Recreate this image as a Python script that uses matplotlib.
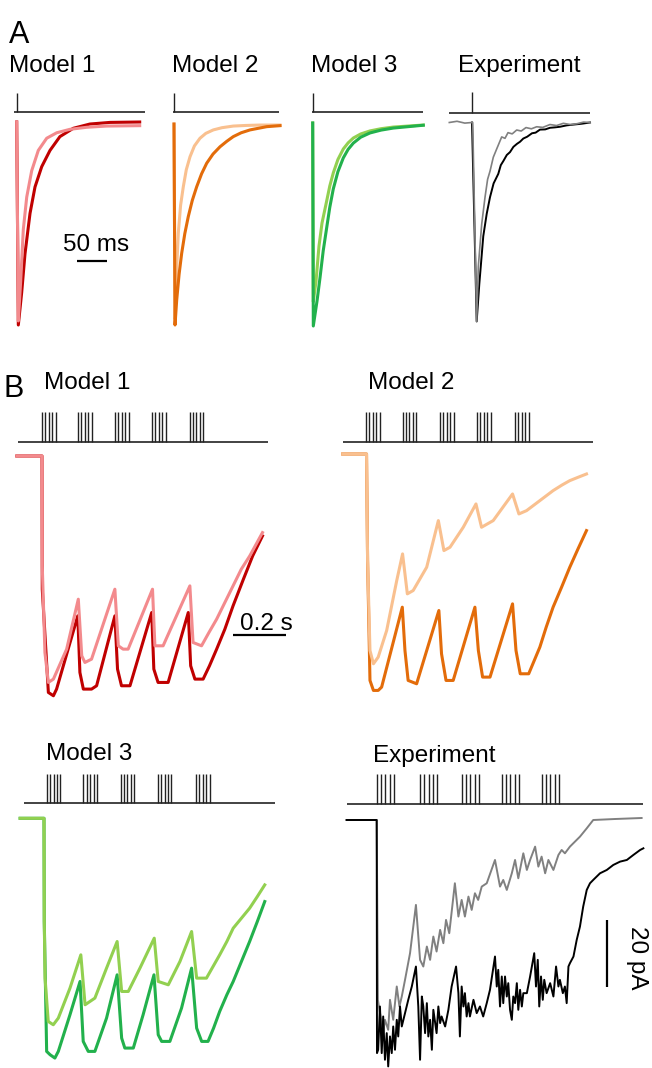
import matplotlib
matplotlib.use('Agg')
import matplotlib.pyplot as plt

# ---- panel A: single EPSC, time in ms, amplitude in % of peak ----
a_m1_fast_t = [0, 2.7, 6.7, 11, 16.7, 25, 36, 50, 66.7, 88.8, 116.7, 150, 205]
a_m1_fast_y = [0, -98, -78, -53, -37, -24, -14, -8, -5.3, -3.6, -2.6, -2, -1.8]
a_m1_slow_t = [0, 2.7, 8.3, 13.8, 22.2, 30.5, 41.7, 55.5, 72, 94.3, 122, 155.5, 205]
a_m1_slow_y = [0, -100, -84, -65, -45, -32, -22, -14, -7.2, -3.1, -1, -0.2, 0]

a_m2_fast_t = [0, 1.7, 4.5, 7.2, 11, 15.5, 20.5, 26.7, 34, 43.3, 53, 65.5, 80, 98.8, 120, 143.3, 176.7]
a_m2_fast_y = [-1, -97, -72, -54.6, -41, -31.9, -23.5, -17.1, -11.8, -8, -5.6, -3.9, -2.8, -2, -1.7, -1.5, -1.5]
a_m2_slow_t = [0, 1.7, 4.5, 8.5, 12.8, 18, 23.8, 30.5, 37.8, 46, 54.5, 65, 76.7, 88, 98.8, 112, 126.7, 154.5, 176.7]
a_m2_slow_y = [-1, -100, -87.7, -75, -64.7, -55, -46.6, -38.6, -31.9, -25.5, -20.3, -15.8, -12.2, -9.5, -7.2, -5.3, -3.9, -2.3, -1.8]

a_m3_fast_t = [0, 1, 5.5, 10.5, 15.5, 23.3, 28.5, 34.3, 42, 51, 59, 67.7, 80, 95.5, 114, 134.3, 184.3]
a_m3_fast_y = [0, -88, -78, -60.6, -49.3, -38.4, -31, -24.6, -18, -12.8, -9.8, -7.4, -5.4, -3.9, -2.8, -2, -1]
a_m3_slow_t = [0, 1, 7.2, 12.2, 17.5, 23.3, 28.5, 34.3, 42, 51, 59, 67.7, 80, 95.5, 114, 134.3, 184.3]
a_m3_slow_y = [0, -100, -87.7, -76.2, -63, -51.6, -41.5, -32.5, -24, -17.2, -13, -9.9, -7, -4.9, -3.5, -2.5, -1.1]

a_exp_gray_t = [-37.8, -25, -12, 0, 1.2, 7.8, 10.5, 16.2, 21.7, 26, 30, 35.5, 41.2, 49.5, 55, 60,
                67, 74.5, 82, 90, 99, 107.8, 118, 130, 141, 152.2, 164, 175, 186, 196.7]
a_exp_gray_y = [0, 0.6, -0.3, 0, 0, -98, -71, -50, -36.8, -28, -24, -17.1, -13, -7.1, -7.8, -5,
                -5.6, -3.7, -4.2, -2.5, -3.1, -2.1, -2.4, -1, -1.5, -0.4, -1, -0.6, 0.2, 0]
a_exp_black_t = [0, 7.8, 12.2, 18.8, 24.5, 30, 36, 43.8, 48, 52.2, 58, 63.3, 69, 75, 80, 85.5,
                 92, 100, 106, 113.3, 122, 130, 138, 146.7, 158, 170, 183, 196.7]
a_exp_black_y = [0, -98, -79.5, -56, -45, -36.8, -30, -25.3, -21, -19, -16, -14.6, -12, -10.5,
                 -9.5, -7.9, -7, -5.3, -5, -3.5, -3.4, -2.6, -2.4, -2.1, -1.4, -1, -0.6, 0]

# ---- panel B: theta-burst responses, time in ms, current in pA ----
b_m1_light_t = [-95, 0, 1, 11, 24, 43, 93, 137, 150, 162, 187, 275, 288, 306, 325, 417, 426,
                457, 558, 570, 602, 630, 659, 690, 721, 752, 784, 832]
b_m1_light_y = [0, 0, -33, -59, -68, -67, -58, -43, -60, -62, -61, -40, -57, -58, -58, -40, -57,
                -57, -39, -56, -57, -53, -49, -44, -39, -34, -30, -23]
b_m1_dark_t = [-95, 0, 1, 24, 43, 55, 135, 143, 156, 187, 206, 275, 285, 300, 332, 414, 422,
               438, 476, 552, 561, 577, 608, 632, 659, 690, 721, 760, 795, 832]
b_m1_dark_y = [0, 0, -40, -71, -72, -70, -48, -65, -70, -70, -69, -48, -64, -69, -69, -47, -64,
               -68, -68, -47, -63, -67, -67, -63, -58, -52, -45, -37, -30, -24]

b_m2_light_t = [-88, 2, 6, 15, 28, 46, 78, 116, 138, 156, 178, 229, 273, 294, 317, 367, 415,
                436, 480, 553, 577, 606, 656, 706, 740, 769, 800, 832]
b_m2_light_y = [0, 0, -32, -59, -63, -61, -53, -38, -30, -42, -41, -34, -20, -29, -28, -22, -15,
                -22, -20, -12, -18, -17, -14, -11, -9.3, -8, -7, -6]
b_m2_dark_t = [-88, 2, 6, 15, 28, 46, 59, 137, 147, 159, 191, 275, 285, 302, 329, 411, 424,
               440, 468, 553, 566, 582, 614, 635, 656, 680, 706, 738, 769, 800, 832]
b_m2_dark_y = [0, 0, -32, -68, -71, -71, -70, -46, -59, -68, -69, -47, -60, -68, -68, -46, -59,
               -67, -67, -45, -59, -66, -66, -62, -58, -52, -46, -40, -34, -28.5, -23]

b_m3_light_t = [-90, 0, 1, 4, 16, 35, 54, 98, 139, 155, 192, 236, 276, 293, 318, 362, 416, 431,
                469, 513, 557, 576, 613, 638, 663, 690, 714, 745, 776, 805, 833]
b_m3_light_y = [0, 0, -31, -48, -61, -62, -60, -51, -41, -56, -54, -45, -37, -52, -52, -45, -36,
                -49, -50, -43, -34, -48, -48, -44.5, -41, -37, -33, -30, -27, -23.5, -20]
b_m3_dark_t = [-90, 0, 1, 10, 23, 41, 54, 98, 136, 148, 167, 192, 236, 276, 293, 305, 337, 374,
               415, 431, 444, 475, 519, 557, 576, 595, 619, 640, 663, 690, 714, 745, 776, 805, 833]
b_m3_dark_y = [0, 0, -31, -70, -71, -72, -70, -59, -49, -67, -70, -70, -60, -47, -66, -69, -69,
               -59, -47, -65, -67, -67, -57, -45, -63, -67, -67, -63, -58, -53, -49, -43, -37, -31, -25]

b_exp_black_t = [-102, 0, 1, 5, 11, 17, 22, 28, 34, 39,
                 45, 51, 56, 62, 68, 73, 79, 85, 96, 107,
                 119, 133, 141, 147, 153, 158, 164, 170, 175, 181,
                 187, 192, 203, 209, 215, 220, 232, 243, 254, 269,
                 277, 282, 288, 294, 299, 305, 311, 316, 328, 339,
                 350, 361, 373, 384, 401, 407, 412, 418, 424, 429,
                 435, 441, 446, 452, 458, 463, 469, 475, 480, 486,
                 492, 497, 509, 520, 534, 540, 546, 551, 557, 563,
                 568, 576, 588, 599, 608, 616, 621, 631, 638, 644,
                 650, 655, 667, 678, 689, 700, 712, 723, 734, 757,
                 780, 802, 825, 848, 870, 893, 904]
b_exp_black_y = [0, 0, -70, -69, -56, -70, -59, -72, -64, -74,
                 -65, -70, -62, -69, -60, -65, -56, -62, -58, -54,
                 -50, -44, -56, -72, -53, -56, -64, -55, -65, -60,
                 -69, -57, -64, -56, -61, -59, -62, -57, -50, -44,
                 -52, -65, -50, -56, -52, -59, -55, -59, -54, -58,
                 -56, -59, -55, -51, -41, -50, -45, -56, -47, -55,
                 -47, -53, -49, -57, -60, -53, -55, -49, -57, -51,
                 -56, -52, -52, -47, -40, -50, -42, -56, -47, -54,
                 -48, -52, -49, -53, -44, -50, -48, -52, -50, -55,
                 -44, -43, -41, -36, -32, -26, -21, -19, -18, -16,
                 -15, -13.5, -12.5, -12, -10.5, -9, -8.5]
b_exp_gray_t = [-102, 0, 4, 22, 28, 39, 45, 56, 68, 77,
                85, 96, 113, 133, 147, 158, 170, 181, 192, 203,
                215, 226, 235, 246, 265, 277, 288, 299, 311, 322,
                333, 344, 356, 373, 401, 418, 429, 441, 458, 469,
                480, 497, 509, 520, 537, 548, 559, 571, 582, 599,
                616, 627, 638, 655, 689, 712, 734, 808, 898]
b_exp_gray_y = [0, 0, -54, -64, -60, -63, -54, -60, -50, -56,
                -53, -48, -40, -25.5, -42, -44, -38, -42, -35, -39.5,
                -33, -37, -30, -34, -19, -29, -24, -29, -23, -27,
                -22, -24, -20, -19, -12, -20, -18, -21, -16, -12,
                -17.5, -10, -15, -12, -8, -14, -11, -16, -12, -15,
                -10.5, -9, -10, -8, -5, -2.5, 0, 0.3, 0.6]

# stimulation: burst onsets and spike offsets within a burst (ms)
m1_bursts = [0, 135, 275, 415, 557]
m2_bursts = [0, 138, 279, 418, 562]
m3_bursts = [10, 148, 289, 429, 573]
exp_bursts = [0, 147, 288, 424, 559]
model_spikes = [0, 13, 26, 39, 52]
exp_spikes = [0, 14.5, 29, 44, 58.5]

W, H = 652, 1068
plt.rcParams['font.family'] = ['Liberation Sans', 'DejaVu Sans']
fig = plt.figure(figsize=(W / 100, H / 100), dpi=100)


def trace_axes(x0, y0, sx, sy):
    # full-figure transparent axes, data origin at pixel (x0, y0), sx/sy px per unit
    ax = fig.add_axes([0, 0, 1, 1])
    ax.set_xlim(-x0 / sx, (W - x0) / sx)
    ax.set_ylim(-(H - y0) / sy, y0 / sy)
    ax.axis('off')
    return ax


def stim(ax, bursts, spikes, t0, t1, y_line, y_top):
    ax.plot([t0, t1], [y_line, y_line], color='#222222', lw=1.2, solid_capstyle='butt')
    times = [b + s for b in bursts for s in spikes]
    ax.vlines(times, y_line, y_top, color='#222222', lw=1.0)


def label(x, y, s, size=17.5, **kw):
    fig.text(x / W, 1 - y / H, s, fontsize=size, va='baseline', **kw)


LW_MOD = 2.2
c1 = ('#F38A8D', '#C00000')
c2 = ('#F9C08F', '#E36C0A')
c3 = ('#92D050', '#22B14C')
GRAY = '#808080'

# ---- panel A ----
ax = trace_axes(16.7, 122, 0.6, 2.03)
stim(ax, [0], [0], -4, 213, 5.1, 14.1)
ax.plot(a_m1_slow_t, a_m1_slow_y, color=c1[1], lw=LW_MOD)
ax.plot(a_m1_fast_t, a_m1_fast_y, color=c1[0], lw=LW_MOD)
ax.plot([100, 150], [-68.5, -68.5], color='black', lw=1.6, solid_capstyle='butt')
ax.text(133, -63.4, '50 ms', fontsize=17.5, ha='center', va='baseline')

ax = trace_axes(174, 122, 0.6, 2.03)
stim(ax, [0], [0], -2.2, 175.5, 5.1, 14.1)
ax.plot(a_m2_fast_t, a_m2_fast_y, color=c2[0], lw=LW_MOD)
ax.plot(a_m2_slow_t, a_m2_slow_y, color=c2[1], lw=LW_MOD)

ax = trace_axes(312.7, 123, 0.6, 2.03)
stim(ax, [0], [0], -1.7, 184.3, 5.6, 14.6)
ax.plot(a_m3_fast_t, a_m3_fast_y, color=c3[0], lw=LW_MOD)
ax.plot(a_m3_slow_t, a_m3_slow_y, color=c3[1], lw=LW_MOD)

ax = trace_axes(472, 122.5, 0.6, 2.03)
stim(ax, [0], [0], -37.8, 196.7, 4.8, 15.2)
ax.plot(a_exp_black_t, a_exp_black_y, color='black', lw=1.4)
ax.plot(a_exp_gray_t, a_exp_gray_y, color=GRAY, lw=1.2)

label(9, 42.7, 'A', size=22)
label(9, 71.7, 'Model 1')
label(172, 71.7, 'Model 2')
label(311, 71.7, 'Model 3')
label(457.5, 71.7, 'Experiment')

# ---- panel B ----
ax = trace_axes(42, 456, 0.265, 3.33)
stim(ax, m1_bursts, model_spikes, -91, 853, 4.3, 13.3)
ax.plot(b_m1_dark_t, b_m1_dark_y, color=c1[1], lw=LW_MOD)
ax.plot(b_m1_light_t, b_m1_light_y, color=c1[0], lw=LW_MOD)
ax.plot([721, 921], [-53.8, -53.8], color='black', lw=1.6, solid_capstyle='butt')
ax.text(747, -52.3, '0.2 s', fontsize=17.5, ha='left', va='baseline')

ax = trace_axes(366, 454, 0.265, 3.33)
stim(ax, m2_bursts, model_spikes, -88, 858, 3.5, 12.5)
ax.plot(b_m2_dark_t, b_m2_dark_y, color=c2[1], lw=LW_MOD)
ax.plot(b_m2_light_t, b_m2_light_y, color=c2[0], lw=LW_MOD)

ax = trace_axes(44, 818.3, 0.265, 3.33)
stim(ax, m3_bursts, model_spikes, -75, 872, 4.5, 13.2)
ax.plot(b_m3_dark_t, b_m3_dark_y, color=c3[1], lw=LW_MOD)
ax.plot(b_m3_light_t, b_m3_light_y, color=c3[0], lw=LW_MOD)

ax = trace_axes(376.7, 820, 0.295, 3.33)
stim(ax, exp_bursts, exp_spikes, -100, 902, 4.7, 13.7)
ax.plot(b_exp_gray_t, b_exp_gray_y, color=GRAY, lw=1.4)
ax.plot(b_exp_black_t, b_exp_black_y, color='black', lw=1.4)
ax.plot([780.7, 780.7], [-30, -50], color='black', lw=1.6, solid_capstyle='butt')
ax.text(881, -41.4, '20 pA', fontsize=17.5, ha='center', va='center', rotation=-90)

label(3, 397.3, 'B', size=22)
label(44, 389.3, 'Model 1')
label(368, 389.3, 'Model 2')
label(46, 760, 'Model 3')
label(373, 761.7, 'Experiment')

fig.savefig('out.png', dpi=100)
